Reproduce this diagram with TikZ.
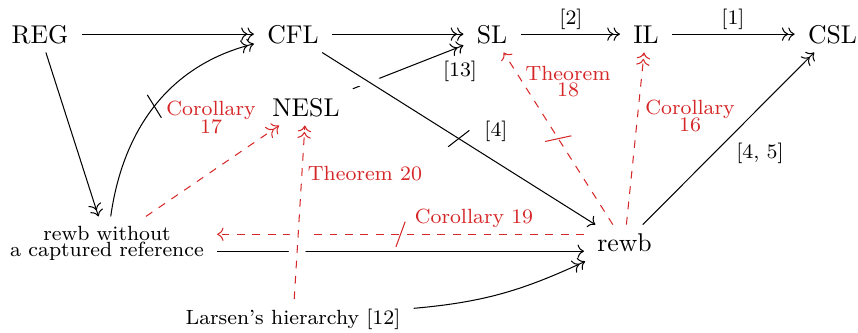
\documentclass[tikz,border=0pt]{standalone}
\usetikzlibrary{arrows.meta, decorations.markings}
\definecolor{thmred}{RGB}{214,39,40}
\begin{document}
\begin{tikzpicture}[x=0.3891pt, y=0.3891pt, >={Computer Modern Rightarrow}, line width=0.4pt,
  obj/.style={inner xsep=5pt, inner ysep=3.5pt, text height=6.9pt, text depth=0pt},
  smallobj/.style={inner xsep=5pt, inner ysep=3.5pt, font=\footnotesize},
  lbl/.style={inner sep=0pt, font=\footnotesize},
  rlbl/.style={inner sep=0pt, font=\footnotesize, text=thmred, align=center},
  reddash/.style={draw=thmred, dashed},
  crossing/.style={preaction={draw=white, -, solid, line width=6.5pt}},
  strike/.style={postaction={decorate}, decoration={markings,
      mark=at position 0.5 with {\draw[solid, -, line width=0.4pt, #1] (-1.8pt,-4.9pt) -- (1.8pt,4.9pt);}}},
  strike/.default=black]
\useasboundingbox (0,0) rectangle (858,-332);
% nodes
\node[obj, anchor=base] (REG) at (40,-43) {REG};
\node[obj, anchor=base] (CFL) at (293,-43) {CFL};
\node[obj, anchor=base] (SL) at (492,-43) {SL};
\node[obj, anchor=base] (IL) at (646,-43) {IL};
\node[obj, anchor=base] (CSL) at (832.5,-43) {CSL};
\node[obj, anchor=base] (NESL) at (306,-116) {NESL};
\node[obj] (rewb) at (624.5,-243) {rewb};
\node[smallobj, align=center] (rwo) at (107,-243) {rewb without\\[-3.3pt]a captured reference};
\node[smallobj, anchor=base] (lar) at (293,-324) {Larsen's hierarchy [12]};
% black arrows
\draw[->>] (REG) -- (CFL);
\draw[->>] (CFL) -- (SL);
\draw[->>] (SL) -- (IL);
\draw[->>] (IL) -- (CSL);
\draw[->>] (REG) -- (rwo);
\draw[->>, strike] (rwo) to[out=82, in=194] (CFL);
\draw[->>] (NESL) -- (SL);
\draw[->, crossing, strike] (CFL) -- (rewb);
\draw[->] ([yshift=-3.2pt]rwo.east) -- ([yshift=-3.2pt]rwo.east -| rewb.west);
\draw[->, reddash, strike=thmred] ([yshift=3.4pt]rewb.west) -- ([yshift=3.4pt]rewb.west -| rwo.east);
\draw[->>, reddash, crossing] (lar) -- (NESL);
\draw[->>, reddash] (rwo) -- (NESL);
\draw[->, reddash, strike=thmred] (rewb) -- (SL);
\draw[->>, reddash] (rewb) -- (IL);
\draw[->>] (rewb) -- (CSL);
\draw[->>] (lar) to[out=5, in=205] (rewb);
% labels
\node[lbl] (l2) at (571,-19) {[2]};
\node[lbl] (l1) at (733,-19) {[1]};
\node[lbl] (l13) at (460,-71.5) {[13]};
\node[lbl] (l4) at (496,-131.5) {[4]};
\node[lbl] (l45) at (760,-153) {[4, 5]};
\node[rlbl] (c17) at (211,-117) {Corollary\\[-2.5pt]17};
\node[rlbl] (t18) at (568,-82) {Theorem\\[-3.3pt]18};
\node[rlbl] (c16) at (690,-116.4) {Corollary\\[-2.9pt]16};
\node[rlbl, anchor=base] (t20) at (365,-180) {Theorem 20};
\node[rlbl, anchor=base] (c19) at (474,-223) {Corollary 19};
\end{tikzpicture}
\end{document}
